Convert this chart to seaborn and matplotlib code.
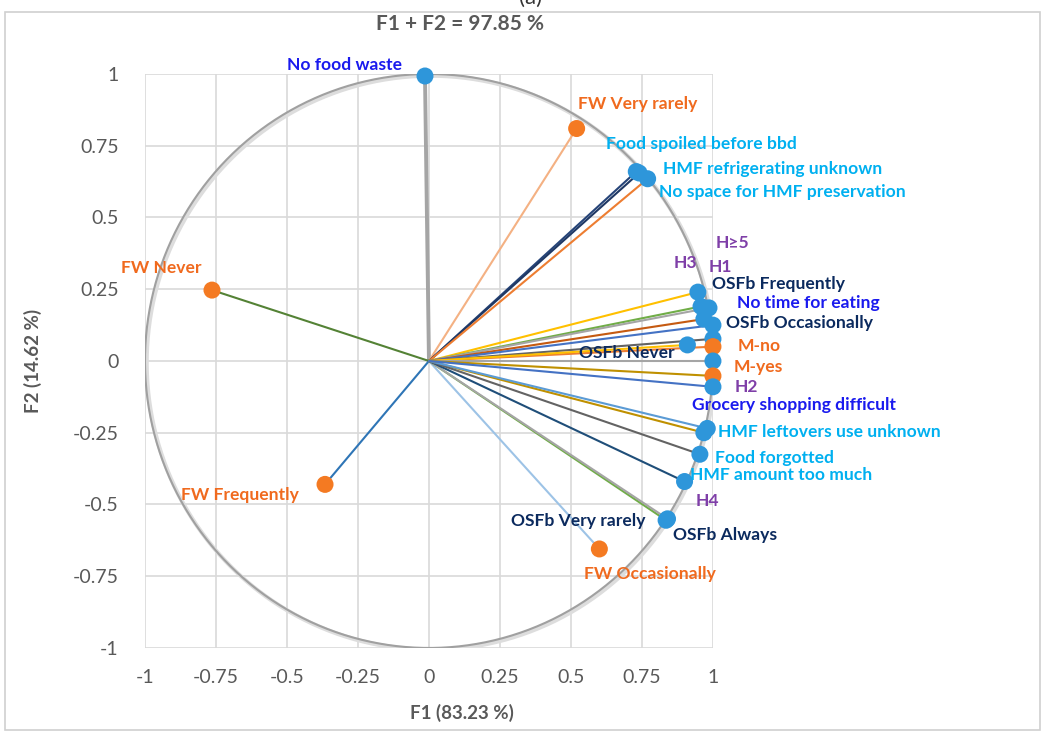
import numpy as np
import pandas as pd
import matplotlib.pyplot as plt
import matplotlib.patches as mpatches
import seaborn as sns

# variable names, coordinates on F1/F2, group (decides label colour), point type
names = [
    'No food waste', 'FW Very rarely', 'Food spoiled before bbd', 'HMF refrigerating unknown',
    'No space for HMF preservation', 'FW Never', 'FW Frequently', 'FW Occasionally',
    'OSFb Very rarely', 'OSFb Always', 'HMF amount too much', 'H4', 'Food forgotted',
    'HMF leftovers use unknown', 'OSFb Frequently', 'H3', 'No time for eating', 'H1',
    'OSFb Occasionally', 'H≥5', 'M-no', 'OSFb Never', 'H2', 'M-yes', 'Grocery shopping difficult',
]
f1 = [-0.014, 0.52, 0.73, 0.74, 0.77, -0.764, -0.366, 0.60,
      0.835, 0.84, 0.90, 0.968, 0.954, 0.98, 0.947, 0.958, 0.986, 0.968,
      1.0, 1.0, 1.0, 0.91, 1.0, 1.0, 1.0]
f2 = [0.993, 0.81, 0.66, 0.655, 0.635, 0.247, -0.43, -0.655,
      -0.555, -0.55, -0.42, -0.25, -0.325, -0.235, 0.24, 0.19, 0.185, 0.146,
      0.125, 0.077, 0.05, 0.056, 0.0, -0.052, -0.09]
group = ['problem', 'FW', 'HMF', 'HMF', 'HMF', 'FW', 'FW', 'FW',
         'OSFb', 'OSFb', 'HMF', 'H', 'HMF', 'HMF', 'OSFb', 'H', 'problem', 'H',
         'OSFb', 'H', 'M', 'OSFb', 'H', 'M', 'problem']
line_colors = ['#A5A5A5', '#F4B183', '#264478', '#1F3864', '#ED7D31', '#548235', '#2E75B6', '#9DC3E6',
               '#70AD47', '#A5A5A5', '#1F4E79', '#BF9000', '#636363', '#5B9BD5', '#FFC000', '#70AD47',
               '#A5A5A5', '#C55A11', '#4472C4', '#636363', '#ED7D31', '#FFC000', '#A5A5A5', '#BF9000',
               '#4472C4']

# label anchor (left edge, vertical centre) in data units
label_x = [-0.50, 0.525, 0.623, 0.824, 0.81, -1.085, -0.873, 0.546,
           0.289, 0.859, 0.919, 0.94, 1.007, 1.018, 0.996, 0.863, 1.085, 0.986,
           1.046, 1.01, 1.088, 0.528, 1.077, 1.074, 0.926]
label_y = [1.031, 0.895, 0.756, 0.669, 0.589, 0.324, -0.467, -0.742,
           -0.557, -0.606, -0.397, -0.488, -0.338, -0.247, 0.268, 0.341, 0.202, 0.328,
           0.132, 0.411, 0.052, 0.028, -0.091, -0.021, -0.153]

text_colors = {'FW': '#F06A1E', 'M': '#F06A1E', 'HMF': '#00B0F0', 'problem': '#1A1AEE',
               'OSFb': '#0B2A5E', 'H': '#7F3FA8'}

df = pd.DataFrame({'name': names, 'F1': f1, 'F2': f2, 'group': group})
df['kind'] = np.where(df['group'].isin(['FW', 'M']), 'orange', 'blue')

# segments from the origin to each variable
seg = pd.concat([
    pd.DataFrame({'name': names, 'F1': 0.0, 'F2': 0.0, 'order': 0}),
    pd.DataFrame({'name': names, 'F1': f1, 'F2': f2, 'order': 1}),
]).sort_values(['name', 'order'])

sns.set_style('white')
plt.rcParams['font.family'] = ['Lato', 'DejaVu Sans']

fig = plt.figure(figsize=(10.46, 7.37), dpi=100)
ax = fig.add_axes([0.1386, 0.1208, 0.543, 0.7788])

ax.set_xlim(-1, 1)
ax.set_ylim(-1, 1)
ticks = np.arange(-1, 1.01, 0.25)
ax.set_xticks(ticks)
ax.set_yticks(ticks)
ax.set_xticklabels([f'{t:g}' for t in ticks])
ax.set_yticklabels([f'{t:g}' for t in ticks])
ax.grid(True, color='#D9D9D9', lw=1.2, zorder=0)
for s in ax.spines.values():
    s.set_visible(False)
ax.tick_params(length=0, labelsize=14, labelcolor='#595959')
ax.tick_params(axis='x', pad=15)
ax.tick_params(axis='y', pad=19)

# correlation circle
th = np.linspace(0, 2 * np.pi, 400)
ax.plot(np.cos(th) + 0.006, np.sin(th) - 0.006, color='#DDDDDD', lw=3, zorder=1)
ax.plot(np.cos(th), np.sin(th), color='#A0A0A0', lw=1.5, zorder=2)

n_before = len(ax.lines)
sns.lineplot(data=seg, x='F1', y='F2', hue='name', hue_order=names, units='name',
             estimator=None, sort=False, palette=dict(zip(names, line_colors)),
             legend=False, ax=ax, lw=1.5, zorder=3)
for ln in ax.lines[n_before:]:
    if ln.get_color() == '#A5A5A5' and abs(ln.get_ydata()[-1]) > 0.9:
        ln.set_linewidth(2.8)

sns.scatterplot(data=df, x='F1', y='F2', hue='kind',
                palette={'blue': '#2E96DA', 'orange': '#F47A22'},
                s=150, edgecolor='none', legend=False, ax=ax, zorder=5, clip_on=False)

for n, g, lx, ly in zip(names, group, label_x, label_y):
    ax.text(lx, ly, n, color=text_colors[g], fontsize=12.6, fontweight='bold',
            ha='left', va='center', clip_on=False, zorder=6)

ax.set_xlabel('F1 (83.23 %)', fontsize=13.5, fontweight='bold', color='#595959')
ax.xaxis.set_label_coords(0.558, -0.097)
ax.set_ylabel('F2 (14.62 %)', fontsize=13.5, fontweight='bold', color='#595959', labelpad=22)
fig.text(460 / 1046, 1 - 24 / 737, 'F1 + F2 = 97.85 %', fontsize=15, fontweight='bold',
         color='#595959', ha='center', va='center')

fig.patches.append(mpatches.Rectangle((5 / 1046, 7 / 737), 1035 / 1046, 718 / 737,
                                      transform=fig.transFigure, fill=False,
                                      edgecolor='#D0D0D0', lw=1.2))
fig.text(0.507, 1.003, '(a)', ha='center', va='center', fontsize=16, color='#333333')

fig.savefig('out.png', dpi=100)
